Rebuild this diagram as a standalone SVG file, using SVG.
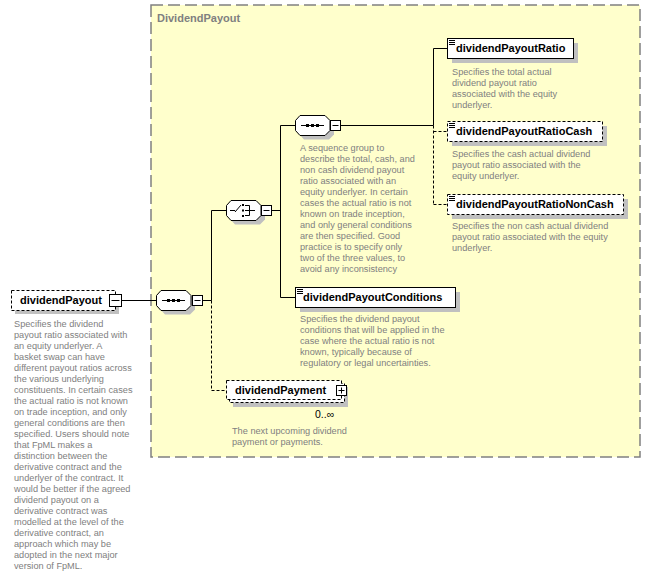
<svg xmlns="http://www.w3.org/2000/svg" width="651" height="575" viewBox="0 0 651 575">
<style>
.node{font-family:"Liberation Sans",Arial,sans-serif;font-weight:bold;font-size:11px;fill:#000}
.title{font-family:"Liberation Sans",Arial,sans-serif;font-weight:bold;font-size:11px;fill:#808080}
.doc{font-family:"Liberation Sans",Arial,sans-serif;font-size:9.2px;fill:#808080}
.occ{font-family:"Liberation Sans",Arial,sans-serif;font-size:10.5px;fill:#000}
.box{fill:#fff;stroke:#000;stroke-width:1}
.opt{stroke-dasharray:3,2}
.sh{fill:#c0c0c0}
.ln{stroke:#000;stroke-width:1;fill:none}
.dl{stroke-dasharray:3,2}
.ic{stroke:#000;stroke-width:1;fill:none}
.dot{fill:#000}
</style>
<defs>
<path id="oct" d="M5,0.5 H30 L35,5.5 V15.5 L30,20.5 H5 L0.5,15.5 V5.5 Z"/>
<path id="docicon" d="M2,2.5 H8 M2,4.5 H8 M2,6.5 H8" stroke="#000" stroke-width="1" fill="none"/>
</defs>

<g id="group-DividendPayout">
<rect x="151" y="5" width="489" height="452" fill="#ffffcc" stroke="#808080" stroke-width="1.5" stroke-dasharray="12,5"/>
<text class="title" x="157" y="22">DividendPayout</text>
</g>

<g id="connectors">
<path class="ln" d="M122,300.5 H156"/>
<path class="ln" d="M203,300.5 H211.5"/>
<path class="ln" d="M211.5,210.5 V300.5"/>
<path class="ln dl" d="M211.5,300.5 V390.5 H226"/>
<path class="ln" d="M211.5,210.5 H226"/>
<path class="ln" d="M271,210.5 H280.5"/>
<path class="ln" d="M280.5,125.5 V297.5 H295"/>
<path class="ln" d="M280.5,125.5 H295"/>
<path class="ln" d="M341,125.5 H433.5"/>
<path class="ln" d="M433.5,48.5 V125.5"/>
<path class="ln dl" d="M433.5,125.5 V204.5"/>
<path class="ln" d="M433.5,48.5 H447"/>
<path class="ln dl" d="M433.5,131.5 H447"/>
<path class="ln dl" d="M433.5,204.5 H447"/>
</g>

<g id="n-dividendPayout">
<rect class="sh" x="15" y="294" width="104" height="20"/>
<rect class="box opt" x="11.5" y="290.5" width="104" height="20"/>
<text class="node" x="20" y="304">dividendPayout</text>
<rect class="box" x="109.5" y="294.5" width="12" height="12"/>
<path class="ic" d="M111.5,300.5 H119.5"/>
<text class="doc">
<tspan x="14" y="327">Specifies the dividend</tspan>
<tspan x="14" y="338">payout ratio associated with</tspan>
<tspan x="14" y="349">an equity underlyer. A</tspan>
<tspan x="14" y="360">basket swap can have</tspan>
<tspan x="14" y="371">different payout ratios across</tspan>
<tspan x="14" y="382">the various underlying</tspan>
<tspan x="14" y="393">constituents. In certain cases</tspan>
<tspan x="14" y="404">the actual ratio is not known</tspan>
<tspan x="14" y="415">on trade inception, and only</tspan>
<tspan x="14" y="426">general conditions are then</tspan>
<tspan x="14" y="437">specified. Users should note</tspan>
<tspan x="14" y="448">that FpML makes a</tspan>
<tspan x="14" y="459">distinction between the</tspan>
<tspan x="14" y="470">derivative contract and the</tspan>
<tspan x="14" y="481">underlyer of the contract. It</tspan>
<tspan x="14" y="492">would be better if the agreed</tspan>
<tspan x="14" y="503">dividend payout on a</tspan>
<tspan x="14" y="514">derivative contract was</tspan>
<tspan x="14" y="525">modelled at the level of the</tspan>
<tspan x="14" y="536">derivative contract, an</tspan>
<tspan x="14" y="547">approach which may be</tspan>
<tspan x="14" y="558">adopted in the next major</tspan>
<tspan x="14" y="569">version of FpML.</tspan>
</text>
</g>

<g id="n-sequence1">
<use href="#oct" x="160" y="294" class="sh"/>
<use href="#oct" x="156" y="290" fill="#fff" stroke="#000"/>
<path class="ic" d="M162,300.5 H185"/>
<rect class="dot" x="167" y="299" width="3" height="3"/>
<rect class="dot" x="172" y="299" width="3" height="3"/>
<rect class="dot" x="177" y="299" width="3" height="3"/>
<rect class="box" x="192.5" y="295.5" width="10" height="10"/>
<path class="ic" d="M194.5,300.5 H200.5"/>
</g>

<g id="n-choice">
<use href="#oct" x="230" y="204" class="sh"/>
<use href="#oct" x="226" y="200" fill="#fff" stroke="#000"/>
<path class="ic" d="M230,210.5 H235 M235,212 L241,205 M245,205.5 H249.5 V215.5 H245 M245,210.5 H255"/>
<rect class="dot" x="242" y="204" width="2" height="2"/>
<rect class="dot" x="242" y="209.5" width="2" height="2"/>
<rect class="dot" x="242" y="215" width="2" height="2"/>
<rect class="box" x="261.5" y="205.5" width="10" height="10"/>
<path class="ic" d="M263.5,210.5 H269.5"/>
</g>

<g id="n-sequence2">
<use href="#oct" x="299" y="119" class="sh"/>
<use href="#oct" x="295" y="115" fill="#fff" stroke="#000"/>
<path class="ic" d="M301,125.5 H324"/>
<rect class="dot" x="306" y="124" width="3" height="3"/>
<rect class="dot" x="311" y="124" width="3" height="3"/>
<rect class="dot" x="316" y="124" width="3" height="3"/>
<rect class="box" x="330.5" y="120.5" width="10" height="10"/>
<path class="ic" d="M332.5,125.5 H338.5"/>
<text class="doc">
<tspan x="300" y="151">A sequence group to</tspan>
<tspan x="300" y="162">describe the total, cash, and</tspan>
<tspan x="300" y="173">non cash dividend payout</tspan>
<tspan x="300" y="184">ratio associated with an</tspan>
<tspan x="300" y="195">equity underlyer. In certain</tspan>
<tspan x="300" y="206">cases the actual ratio is not</tspan>
<tspan x="300" y="217">known on trade inception,</tspan>
<tspan x="300" y="228">and only general conditions</tspan>
<tspan x="300" y="239">are then specified. Good</tspan>
<tspan x="300" y="250">practice is to specify only</tspan>
<tspan x="300" y="261">two of the three values, to</tspan>
<tspan x="300" y="272">avoid any inconsistency</tspan>
</text>
</g>

<g id="n-dividendPayoutRatio">
<rect class="sh" x="452" y="43" width="126" height="20"/>
<rect class="box" x="447.5" y="38.5" width="126" height="20"/>
<use href="#docicon" x="447" y="38"/>
<text class="node" x="456" y="52">dividendPayoutRatio</text>
<text class="doc">
<tspan x="452" y="75">Specifies the total actual</tspan>
<tspan x="452" y="86">dividend payout ratio</tspan>
<tspan x="452" y="97">associated with the equity</tspan>
<tspan x="452" y="108">underlyer.</tspan>
</text>
</g>

<g id="n-dividendPayoutRatioCash">
<rect class="sh" x="452" y="126" width="155" height="20"/>
<rect class="box opt" x="447.5" y="121.5" width="155" height="20"/>
<use href="#docicon" x="447" y="121"/>
<text class="node" x="456" y="135">dividendPayoutRatioCash</text>
<text class="doc">
<tspan x="452" y="157">Specifies the cash actual dividend</tspan>
<tspan x="452" y="168">payout ratio associated with the</tspan>
<tspan x="452" y="179">equity underlyer.</tspan>
</text>
</g>

<g id="n-dividendPayoutRatioNonCash">
<rect class="sh" x="452" y="199" width="176" height="20"/>
<rect class="box opt" x="447.5" y="194.5" width="176" height="20"/>
<use href="#docicon" x="447" y="194"/>
<text class="node" x="456" y="208">dividendPayoutRatioNonCash</text>
<text class="doc">
<tspan x="452" y="229">Specifies the non cash actual dividend</tspan>
<tspan x="452" y="240">payout ratio associated with the equity</tspan>
<tspan x="452" y="251">underlyer.</tspan>
</text>
</g>

<g id="n-dividendPayoutConditions">
<rect class="sh" x="300" y="292" width="160" height="20"/>
<rect class="box" x="295.5" y="287.5" width="160" height="20"/>
<use href="#docicon" x="295" y="287"/>
<text class="node" x="303" y="301">dividendPayoutConditions</text>
<text class="doc">
<tspan x="300" y="322">Specifies the dividend payout</tspan>
<tspan x="300" y="333">conditions that will be applied in the</tspan>
<tspan x="300" y="344">case where the actual ratio is not</tspan>
<tspan x="300" y="355">known, typically because of</tspan>
<tspan x="300" y="366">regulatory or legal uncertainties.</tspan>
</text>
</g>

<g id="n-dividendPayment">
<rect class="sh" x="233" y="387" width="115" height="20"/>
<rect class="box opt" x="229.5" y="383.5" width="115" height="19"/>
<rect class="box opt" x="226.5" y="380.5" width="115" height="19"/>
<text class="node" x="235" y="394">dividendPayment</text>
<rect class="box" x="336.5" y="385.5" width="10" height="10"/>
<path class="ic" d="M338.5,390.5 H344.5 M341.5,387.5 V393.5"/>
<text class="occ" x="315" y="418">0..∞</text>
<text class="doc">
<tspan x="232" y="434">The next upcoming dividend</tspan>
<tspan x="232" y="445">payment or payments.</tspan>
</text>
</g>
</svg>
